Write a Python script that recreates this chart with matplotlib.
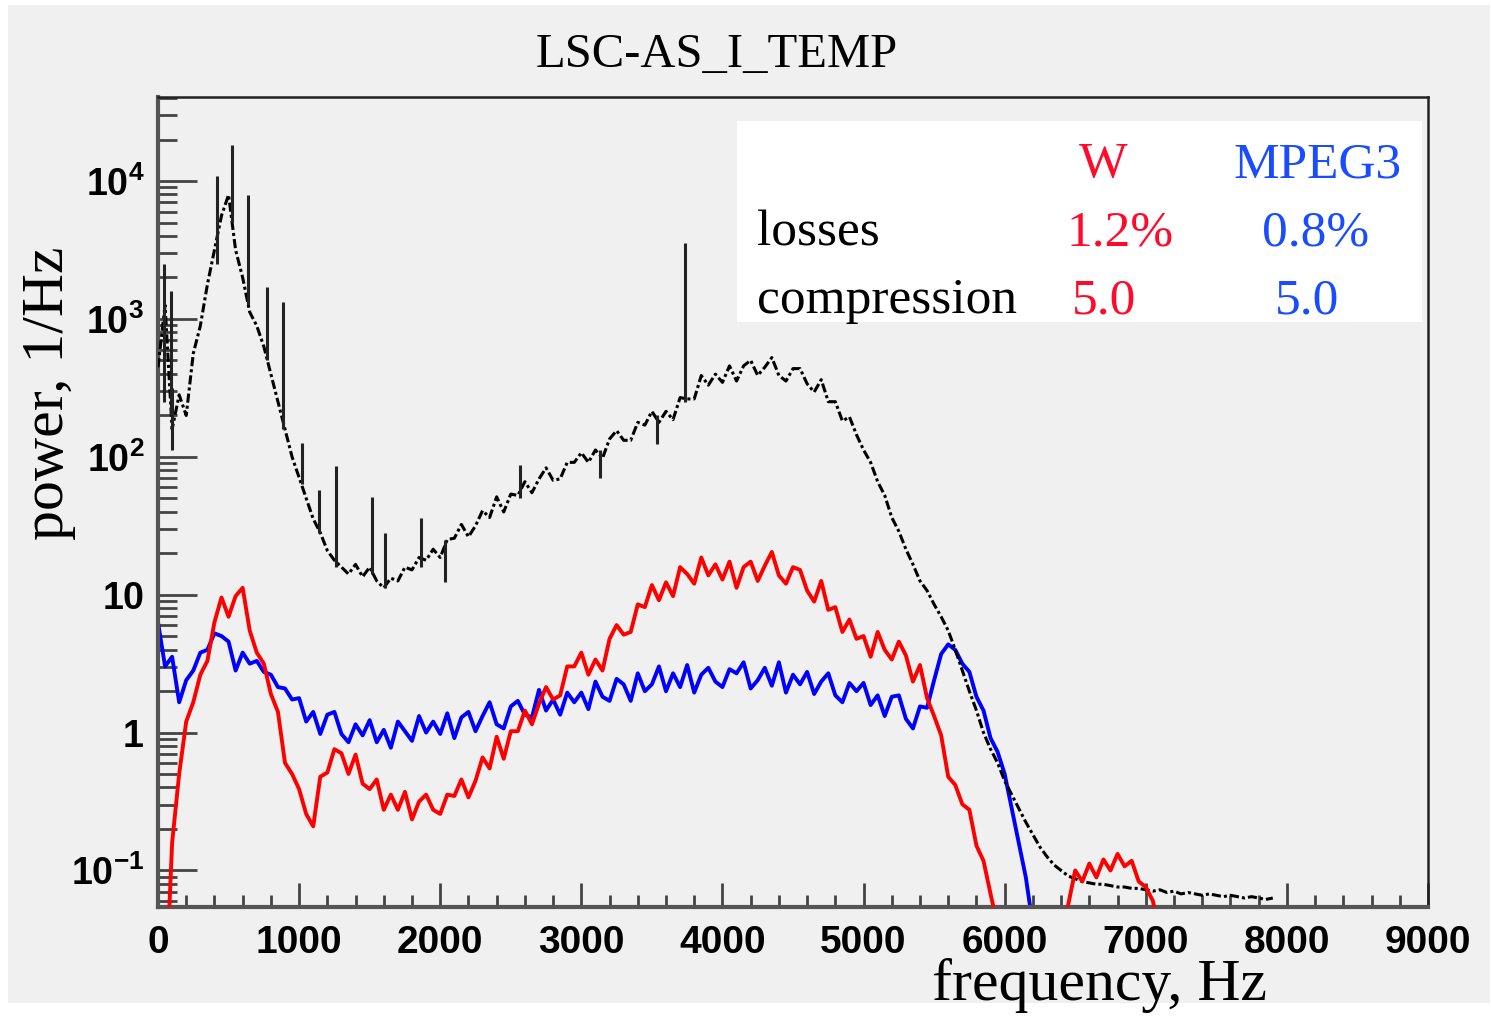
import numpy as np
import matplotlib
matplotlib.use("Agg")
import matplotlib.pyplot as plt
from matplotlib.patches import Rectangle
from matplotlib.ticker import LogLocator, MultipleLocator, NullFormatter

plt.rcParams['mathtext.fontset'] = 'custom'
plt.rcParams['mathtext.rm'] = 'Liberation Sans:bold'
plt.rcParams['mathtext.it'] = 'Liberation Sans:bold'
plt.rcParams['mathtext.bf'] = 'Liberation Sans:bold'

# ---------------- data (log10 of power, 1/Hz), 50 Hz bins ----------------
step_hz = 50
black_log = [
    2.65, 3.1, 2.2, 2.45, 2.3, 2.75, 2.95, 3.25, 3.5, 3.75, 3.9, 3.5, 3.3, 3.05, 2.95, 2.8, 2.6, 2.4, 2.2, 2.0,
    1.85, 1.7, 1.55, 1.45, 1.32, 1.25, 1.2, 1.15, 1.22, 1.13, 1.2, 1.1, 1.05, 1.12, 1.1, 1.2, 1.18, 1.27, 1.25, 1.33,
    1.27, 1.4, 1.41, 1.51, 1.42, 1.5, 1.61, 1.56, 1.71, 1.6, 1.73, 1.72, 1.82, 1.74, 1.84, 1.92, 1.83, 1.84, 1.96, 1.96,
    2.03, 1.96, 2.05, 1.99, 2.13, 2.19, 2.12, 2.12, 2.25, 2.23, 2.33, 2.25, 2.33, 2.27, 2.43, 2.42, 2.42, 2.59, 2.52, 2.6,
    2.54, 2.66, 2.55, 2.66, 2.7, 2.59, 2.65, 2.72, 2.59, 2.55, 2.64, 2.64, 2.53, 2.47, 2.56, 2.4, 2.4, 2.26, 2.29, 2.16,
    2.05, 1.96, 1.82, 1.72, 1.56, 1.46, 1.33, 1.22, 1.1, 1.03, 0.93, 0.84, 0.74, 0.6, 0.45, 0.3, 0.16, 0.0, -0.12, -0.22,
    -0.35, -0.45, -0.55, -0.65, -0.74, -0.83, -0.9, -0.96, -1.0, -1.04, -1.06, -1.08, -1.09, -1.1, -1.1, -1.11, -1.12, -1.12, -1.13, -1.13,
    -1.14, -1.15, -1.14, -1.16, -1.15, -1.17, -1.16, -1.17, -1.18, -1.17, -1.18, -1.19, -1.18, -1.19, -1.2, -1.19, -1.2, -1.21, -1.2,
]
red_log = [
    -2.0, -2.0, -0.8, -0.3, 0.08, 0.22, 0.42, 0.52, 0.8, 0.98, 0.84, 0.99, 1.05, 0.74, 0.58, 0.5, 0.28, 0.15, -0.22, -0.3,
    -0.41, -0.59, -0.68, -0.32, -0.29, -0.12, -0.15, -0.3, -0.16, -0.37, -0.41, -0.34, -0.56, -0.45, -0.56, -0.43, -0.63, -0.5, -0.45, -0.56,
    -0.59, -0.45, -0.46, -0.34, -0.47, -0.35, -0.18, -0.26, -0.03, -0.19, 0.01, 0.01, 0.16, 0.06, 0.21, 0.33, 0.24, 0.27, 0.48, 0.48,
    0.58, 0.42, 0.53, 0.45, 0.68, 0.78, 0.71, 0.73, 0.93, 0.91, 1.07, 0.96, 1.09, 0.99, 1.2, 1.15, 1.08, 1.27, 1.14, 1.22,
    1.11, 1.24, 1.05, 1.2, 1.24, 1.1, 1.21, 1.31, 1.14, 1.08, 1.2, 1.18, 1.03, 0.95, 1.1, 0.89, 0.91, 0.73, 0.82, 0.68,
    0.7, 0.55, 0.73, 0.6, 0.53, 0.66, 0.56, 0.37, 0.49, 0.25, 0.12, -0.02, -0.32, -0.38, -0.52, -0.56, -0.82, -0.93, -1.17, -1.4,
    -1.8, -1.8, -1.8, -1.8, -1.8, -1.8, -1.8, -1.8, -1.8, -1.25, -1.0, -1.08, -0.95, -1.05, -0.92, -1.0, -0.88, -0.97, -0.93, -1.08,
    -1.12, -1.22, -1.45,
]
blue_log = [
    0.8, 0.48, 0.55, 0.22, 0.38, 0.45, 0.58, 0.6, 0.72, 0.7, 0.66, 0.45, 0.58, 0.5, 0.52, 0.44, 0.42, 0.33, 0.32, 0.24,
    0.25, 0.08, 0.15, -0.01, 0.13, 0.15, -0.01, -0.07, 0.06, -0.02, 0.09, -0.07, 0.02, -0.11, 0.08, 0.01, -0.06, 0.12, 0.0, 0.08,
    -0.01, 0.14, -0.04, 0.11, 0.15, 0.01, 0.12, 0.22, 0.06, 0.03, 0.19, 0.23, 0.13, 0.11, 0.31, 0.16, 0.24, 0.13, 0.29, 0.22,
    0.29, 0.17, 0.37, 0.26, 0.23, 0.39, 0.35, 0.23, 0.43, 0.3, 0.35, 0.48, 0.3, 0.43, 0.33, 0.49, 0.29, 0.42, 0.47, 0.37,
    0.33, 0.46, 0.43, 0.51, 0.32, 0.38, 0.47, 0.34, 0.51, 0.29, 0.42, 0.35, 0.44, 0.28, 0.37, 0.43, 0.27, 0.22, 0.36, 0.3,
    0.36, 0.2, 0.27, 0.12, 0.26, 0.27, 0.1, 0.03, 0.19, 0.18, 0.38, 0.57, 0.64, 0.6, 0.5, 0.44, 0.26, 0.16, -0.04, -0.14,
    -0.3, -0.55, -0.8, -1.05, -1.4,
]
# narrow lines in the original (black) spectrum: frequency, low and high log10 power
spike_freq = [40, 90, 100, 420, 525, 640, 775, 885, 1020, 1140, 1260, 1515, 1610, 1865, 2034, 2565, 3132, 3536, 3735]
spike_low = [2.4, 2.3, 2.05, 3.4, 3.7, 3.1, 2.7, 2.2, 1.8, 1.45, 1.2, 1.15, 1.05, 1.2, 1.09, 1.7, 1.85, 2.09, 2.4]
spike_high = [3.4, 3.2, 2.5, 4.04, 4.26, 3.9, 3.23, 3.12, 2.1, 1.76, 1.93, 1.71, 1.45, 1.56, 1.4, 1.94, 2.05, 2.3, 3.55]

x_ticks = [0, 1000, 2000, 3000, 4000, 5000, 6000, 7000, 8000, 9000]
y_ticks = [0.1, 1, 10, 100, 1000, 10000]
y_tick_labels = [r'$10^{-1}$', r'$1$', r'$10$', r'$10^{2}$', r'$10^{3}$', r'$10^{4}$']

title = "LSC-AS_I_TEMP"
table_cols = ["W", "MPEG3"]
table_rows = ["losses", "compression"]
table_vals = [["1.2%", "0.8%"], ["5.0", "5.0"]]

# ---------------- figure ----------------
W, H = 1491, 1016
fig = plt.figure(figsize=(W / 100, H / 100), dpi=100)
fig.patch.set_facecolor('white')
fig.add_artist(Rectangle((8 / W, 1 - 1003 / H), (1490 - 8) / W, (1003 - 5) / H,
                         transform=fig.transFigure, facecolor='#f0f0f0',
                         edgecolor='none', zorder=-10))

ax = fig.add_axes([158 / W, 1 - 907 / H, 1270 / W, 810 / H])
ax.set_facecolor('#f0f0f0')

f_black = np.arange(len(black_log)) * step_hz
f_red = np.arange(len(red_log)) * step_hz
f_blue = np.arange(len(blue_log)) * step_hz

ax.plot(f_blue, 10 ** np.array(blue_log), color='#0000ff', lw=2.8, zorder=2)
ax.plot(f_black, 10 ** np.array(black_log), color='black', lw=2.2,
        ls=(0, (3, 1, 1, 1)), zorder=3)
ax.vlines(spike_freq, 10 ** np.array(spike_low), 10 ** np.array(spike_high),
          color='#222222', lw=2.2, zorder=3)
ax.plot(f_red, 10 ** np.array(red_log), color='#ff0000', lw=2.8, zorder=4)

ax.set_yscale('log')
ax.set_xlim(0, 9000)
ax.set_ylim(10 ** -1.265, 10 ** 4.61)

ax.set_xticks(x_ticks)
ax.set_xticklabels([str(v) for v in x_ticks])
ax.xaxis.set_minor_locator(MultipleLocator(200))
ax.set_yticks(y_ticks)
ax.set_yticklabels(y_tick_labels)
ax.yaxis.set_minor_locator(LogLocator(base=10, subs=np.arange(2, 10)))
ax.yaxis.set_minor_formatter(NullFormatter())

for lab in ax.get_xticklabels():
    lab.set_fontfamily('Liberation Sans')
    lab.set_fontweight('bold')

ax.tick_params(axis='x', which='major', direction='in', length=17, width=2,
               color='#444444', pad=13, labelsize=28)
ax.tick_params(axis='x', which='minor', direction='in', length=8.5, width=2,
               color='#444444')
ax.tick_params(axis='y', which='major', direction='in', length=28, width=2,
               color='#444444', pad=10, labelsize=27)
ax.tick_params(axis='y', which='minor', direction='in', length=14, width=2,
               color='#444444')

for side in ['left', 'bottom']:
    ax.spines[side].set_linewidth(3)
    ax.spines[side].set_color('#555555')
for side in ['top', 'right']:
    ax.spines[side].set_linewidth(1.8)
    ax.spines[side].set_color('#222222')

serif = 'Liberation Serif'
fig.text(717 / W, 1 - 67 / H, title, ha='center', va='baseline',
         fontsize=35, family=serif)
fig.text(932 / W, 1 - 1000 / H, "frequency, Hz", ha='left', va='baseline',
         fontsize=43, family=serif)
fig.text(49 / W, 1 - 393 / H, "power, 1/Hz", ha='center', va='center',
         rotation=90, fontsize=43, family=serif)

# table box
fig.add_artist(Rectangle((737 / W, 1 - 322 / H), (1422 - 737) / W, (322 - 121) / H,
                         transform=fig.transFigure, facecolor='white',
                         edgecolor='none', zorder=5))
red_t, blue_t = '#ff0a2a', '#1a4cff'
col_x = [1103, 1318]
col_colors = [red_t, blue_t]
for name, cx, c in zip(table_cols, col_x, col_colors):
    fig.text(cx / W, 1 - 177 / H, name, ha='center', va='baseline',
             fontsize=37, family=serif, color=c, zorder=6)
row_y = [245, 313]
val_x = [[1120, 1316], [1104, 1307]]
for r, (rname, ry) in enumerate(zip(table_rows, row_y)):
    fig.text(757 / W, 1 - ry / H, rname, ha='left', va='baseline',
             fontsize=37, family=serif, color='black', zorder=6)
    for j in range(2):
        fig.text(val_x[r][j] / W, 1 - ry / H, table_vals[r][j], ha='center',
                 va='baseline', fontsize=37, family=serif, color=col_colors[j],
                 zorder=6)

fig.savefig('out.png', dpi=100, facecolor=fig.get_facecolor())
